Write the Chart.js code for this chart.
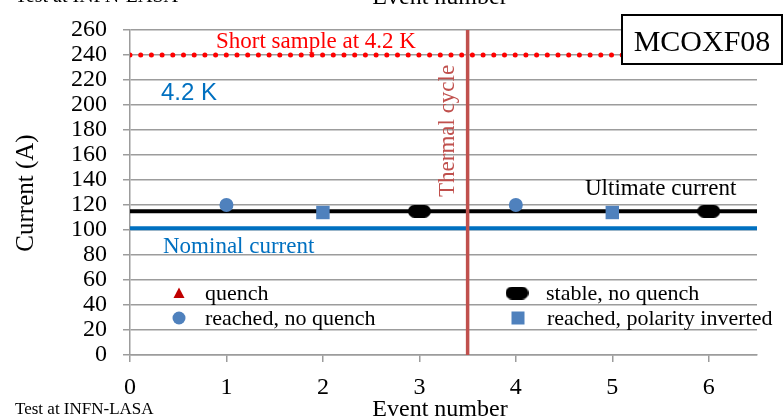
<!DOCTYPE html>
<html>
<head>
<meta charset="utf-8">
<script src="https://cdn.jsdelivr.net/npm/chart.js@4.4.1/dist/chart.umd.min.js"></script>
<style>
  body { margin: 0; background: #fff; }
</style>
</head>
<body>
<canvas id="theChart" width="784" height="420"></canvas>
<script>
// values
const xTicks = [0, 1, 2, 3, 4, 5, 6]
const yTicks = [0, 20, 40, 60, 80, 100, 120, 140, 160, 180, 200, 220, 240, 260]
const xRange = [0, 6.5]
const yRange = [0, 260]

const quenchEvents = []
const quenchCurrent = []
const reachedEvents = [1, 4]
const reachedCurrent = [120, 120]
const invertedEvents = [2, 5]
const invertedCurrent = [114, 114]
const stableEvents = [3, 6]
const stableCurrent = [115, 115]

const shortSample = 240
const ultimateCurrent = 115
const nominalCurrent = 101.5
const thermalCycleAt = 3.5

const serif = "'Liberation Serif', 'Times New Roman', serif"
const sans = "'Liberation Sans', Arial, sans-serif"
const gridGray = '#9c9c9c'

const pts = (xs, ys) => xs.map((x, i) => ({ x: x, y: ys[i] }))
const hline = y => [{ x: xRange[0], y: y }, { x: xRange[1], y: y }]

// black pill marker
function pill(w, h) {
  const c = document.createElement('canvas')
  c.width = w; c.height = h
  const g = c.getContext('2d')
  const r = h / 2
  g.fillStyle = '#000'
  g.beginPath()
  g.arc(r, r, r, Math.PI / 2, Math.PI * 1.5)
  g.arc(w - r, r, r, -Math.PI / 2, Math.PI / 2)
  g.closePath()
  g.fill()
  return c
}
const pillMark = pill(23, 13)

const markers = [
  { label: 'quench', data: pts(quenchEvents, quenchCurrent), pointStyle: 'triangle', pointRadius: 6, backgroundColor: '#c00000', borderColor: '#c00000' },
  { label: 'reached, no quench', data: pts(reachedEvents, reachedCurrent), pointStyle: 'circle', pointRadius: 7, backgroundColor: '#4f81bd', borderColor: '#4f81bd' },
  { label: 'stable, no quench', data: pts(stableEvents, stableCurrent), pointStyle: pillMark, pointRadius: 7, backgroundColor: '#000', borderColor: '#000' },
  { label: 'reached, polarity inverted', data: pts(invertedEvents, invertedCurrent), pointStyle: 'rect', pointRadius: 9.5, backgroundColor: '#4f81bd', borderColor: '#4f81bd' }
]
markers.forEach(d => { d.showLine = false; d.borderWidth = 0 })

const lines = [
  { label: 'Thermal cycle', data: [{ x: thermalCycleAt, y: yRange[0] }, { x: thermalCycleAt, y: yRange[1] }], borderColor: '#c0504d', borderWidth: 3.5 },
  { label: 'Ultimate current', data: hline(ultimateCurrent), borderColor: '#000', borderWidth: 4 },
  { label: 'Nominal current', data: hline(nominalCurrent), borderColor: '#0070c0', borderWidth: 4 },
  { label: 'Short sample at 4.2 K', data: hline(shortSample), borderColor: '#ff0000', borderWidth: 5, borderDash: [0, 10.7], borderCapStyle: 'round' }
]
lines.forEach(d => { d.showLine = true; d.pointRadius = 0; d.fill = false })

function txt(ctx, s, x, y, font, color, align, rot) {
  ctx.save()
  ctx.font = font
  ctx.fillStyle = color
  ctx.textAlign = align || 'left'
  ctx.textBaseline = 'alphabetic'
  ctx.translate(x, y)
  if (rot) ctx.rotate(rot)
  ctx.fillText(s, 0, 0)
  ctx.restore()
}

const extras = {
  id: 'extras',
  afterDraw(chart) {
    const ctx = chart.ctx
    // text on the chart
    txt(ctx, 'Short sample at 4.2 K', 216, 48, '23px ' + serif, '#ff0000')
    txt(ctx, '4.2 K', 161, 100, '24px ' + sans, '#0070c0')
    txt(ctx, 'Nominal current', 163, 253, '23px ' + serif, '#0070c0')
    txt(ctx, 'Ultimate current', 585, 195, '23px ' + serif, '#000')
    txt(ctx, 'Thermal cycle', 454, 197, '23px ' + serif, '#c0504d', 'left', -Math.PI / 2)

    // name box
    ctx.save()
    ctx.fillStyle = '#fff'
    ctx.strokeStyle = '#000'
    ctx.lineWidth = 2
    ctx.fillRect(622, 15, 160, 49)
    ctx.strokeRect(622, 15, 160, 49)
    ctx.restore()
    txt(ctx, 'MCOXF08', 702, 51, '30px ' + serif, '#000', 'center')

    // legend inside the plot
    const spots = [[179, 293], [179, 318], [517, 293], [518, 318]]
    markers.forEach((d, i) => {
      const [x, y] = spots[i]
      ctx.save()
      ctx.fillStyle = d.backgroundColor
      if (d.pointStyle === 'triangle') {
        ctx.beginPath()
        ctx.moveTo(x, y - 5.5); ctx.lineTo(x + 5.5, y + 5); ctx.lineTo(x - 5.5, y + 5)
        ctx.closePath(); ctx.fill()
      } else if (d.pointStyle === 'circle') {
        ctx.beginPath(); ctx.arc(x, y, 6.5, 0, Math.PI * 2); ctx.fill()
      } else if (d.pointStyle === 'rect') {
        ctx.fillRect(x - 6.5, y - 6.5, 13, 13)
      } else {
        ctx.drawImage(d.pointStyle, x - 11.5, y - 6.5)
      }
      ctx.restore()
      txt(ctx, d.label, x + (i < 2 ? 26 : 29), y + 7, '22px ' + serif, '#000')
    })

    // axis titles and notes
    txt(ctx, 'Current (A)', 33, 193, '25px ' + serif, '#000', 'center', -Math.PI / 2)
    txt(ctx, 'Event number', 440, 416, '24px ' + serif, '#000', 'center')
    txt(ctx, 'Test at INFN-LASA', 15, 414, '17px ' + serif, '#000')
    // cut-off text at the very top
    txt(ctx, 'Test at INFN-LASA', 15, 2, '20px ' + serif, '#000')
    txt(ctx, 'Event number', 440, 4, '24px ' + serif, '#000', 'center')
  }
}

const ctx = document.getElementById('theChart')
new Chart(ctx, {
  type: 'scatter',
  data: { datasets: markers.concat(lines) },
  options: {
    responsive: false,
    animation: false,
    layout: { padding: { top: 30, right: 27, left: 0, bottom: 0 } },
    plugins: { legend: { display: false }, tooltip: { enabled: false } },
    scales: {
      x: {
        type: 'linear',
        min: xRange[0],
        max: xRange[1],
        afterBuildTicks: axis => { axis.ticks = xTicks.map(v => ({ value: v })) },
        afterFit: axis => { axis.height = 65 },
        grid: { drawOnChartArea: false, drawTicks: true, tickLength: 7, color: gridGray, lineWidth: 1.5 },
        border: { color: gridGray, width: 1.5 },
        ticks: { font: { family: serif, size: 24 }, color: '#000', padding: 11, maxRotation: 0, autoSkip: false }
      },
      y: {
        min: yRange[0],
        max: yRange[1],
        afterBuildTicks: axis => { axis.ticks = yTicks.map(v => ({ value: v })) },
        afterFit: axis => { axis.width = 130 },
        grid: { color: gridGray, lineWidth: 1.5, tickLength: 7 },
        border: { color: gridGray, width: 1.5 },
        ticks: { font: { family: serif, size: 24, lineHeight: 1 }, color: '#000', padding: 16, autoSkip: false }
      }
    }
  },
  plugins: [extras]
})
</script>
</body>
</html>
